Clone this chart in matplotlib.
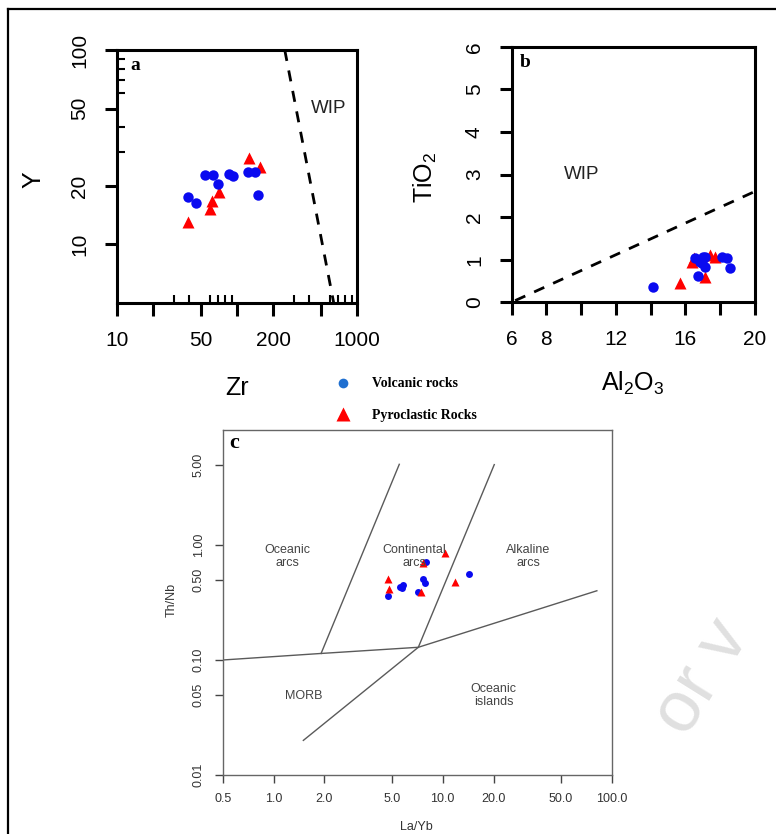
import matplotlib
matplotlib.use("Agg")
import matplotlib.pyplot as plt
from matplotlib.lines import Line2D
from matplotlib.ticker import FixedLocator, FixedFormatter, NullLocator

# ---------------- data ----------------
# Panel a: Zr vs Y
a_volc_zr = [39, 45.5, 54, 63, 70, 85, 92, 124, 141, 149]
a_volc_y = [17.5, 16.4, 22.7, 22.7, 20.4, 23.0, 22.4, 23.6, 23.6, 18.0]
a_pyro_zr = [39, 59.6, 61.5, 71, 126, 155]
a_pyro_y = [13.0, 15.3, 16.7, 18.6, 27.7, 25.0]
a_wip_zr = [250, 640]
a_wip_y = [100, 5.0]

# Panel b: Al2O3 vs TiO2
b_volc_al = [14.16, 16.56, 16.85, 17.13, 17.13, 16.75, 18.1, 18.38, 18.57, 16.94, 17.04]
b_volc_ti = [0.37, 1.03, 0.95, 1.07, 0.84, 0.62, 1.07, 1.03, 0.80, 0.92, 1.07]
b_pyro_al = [15.7, 16.37, 17.13, 17.42, 17.71, 16.5]
b_pyro_ti = [0.46, 0.95, 0.60, 1.11, 1.06, 1.03]
b_wip_al = [6.2, 20]
b_wip_ti = [0.04, 2.6]

# Panel c: La/Yb vs Th/Nb
c_volc_layb = [4.77, 5.6, 5.86, 5.78, 7.13, 7.69, 7.87, 7.98, 14.3]
c_volc_thnb = [0.361, 0.433, 0.449, 0.426, 0.393, 0.506, 0.470, 0.716, 0.56]
c_pyro_layb = [4.77, 4.84, 7.42, 7.69, 10.3, 11.9]
c_pyro_thnb = [0.506, 0.412, 0.393, 0.692, 0.848, 0.48]

c_bound1_x = [1.91, 5.54]
c_bound1_y = [0.114, 5.03]
c_bound2_x = [7.18, 20.2]
c_bound2_y = [0.129, 5.0]
c_bound3_x = [0.5, 1.91, 7.18, 81.7]
c_bound3_y = [0.1, 0.114, 0.129, 0.40]
c_bound4_x = [1.5, 7.18]
c_bound4_y = [0.02, 0.129]

a_xticks = [10, 20, 50, 100, 200, 500, 1000]
a_xlabels = ["10", "", "50", "", "200", "", "1000"]
a_yticks = [10, 20, 50, 100]
a_ylabels = ["10", "20", "50", "100"]
a_xminor = [30, 40, 60, 70, 80, 90, 300, 400, 600, 700, 800, 900]
a_yminor = [30, 40, 60, 70, 80, 90]

b_xticks = [6, 8, 10, 12, 14, 16, 18, 20]
b_xlabels = ["6", "8", "", "12", "", "16", "", "20"]
b_yticks = [0, 1, 2, 3, 4, 5, 6]

c_xticks = [0.5, 1, 2, 5, 10, 20, 50, 100]
c_xlabels = ["0.5", "1.0", "2.0", "5.0", "10.0", "20.0", "50.0", "100.0"]
c_yticks = [0.01, 0.05, 0.1, 0.5, 1, 5]
c_ylabels = ["0.01", "0.05", "0.10", "0.50", "1.00", "5.00"]

# ---------------- figure ----------------
W, H = 776, 834
fig = plt.figure(figsize=(W / 100, H / 100), dpi=100)
SANS = "Liberation Sans"
SERIF = "Liberation Serif"
plt.rcParams["font.family"] = SANS

BLUE = "#0a0af0"
RED = "#ff0000"


def rect(l, t, r, b):
    return [l / W, 1 - b / H, (r - l) / W, (b - t) / H]


def fxy(x, y):
    return x / W, 1 - y / H


def style_r_axes(ax):
    for s in ax.spines.values():
        s.set_linewidth(2.2)
        s.set_color("black")
    ax.tick_params(which="major", direction="out", length=9, width=2.2,
                   labelsize=15, color="black")
    ax.tick_params(axis="x", pad=11)
    ax.tick_params(axis="y", labelrotation=90, pad=11)
    for lbl in ax.get_yticklabels():
        lbl.set_va("center")


# watermark (faint, behind everything)
fig.text(*fxy(703, 678), "or v", fontsize=52, color="#e0e0e0", rotation=58,
         rotation_mode="anchor", ha="center", va="center", zorder=0)

# ---- panel a ----
axa = fig.add_axes(rect(117, 50, 357, 303))
axa.patch.set_alpha(0)
axa.set_xscale("log")
axa.set_yscale("log")
axa.set_xlim(10, 1000)
axa.set_ylim(5, 100)
axa.plot(a_wip_zr, a_wip_y, ls=(0, (4, 3.5)), color="black", lw=2)
axa.plot(a_pyro_zr, a_pyro_y, "^", color=RED, ms=8.5, mec="none")
axa.plot(a_volc_zr, a_volc_y, "o", color=BLUE, ms=7.5, mec="none")
axa.xaxis.set_major_locator(FixedLocator(a_xticks))
axa.xaxis.set_major_formatter(FixedFormatter(a_xlabels))
axa.yaxis.set_major_locator(FixedLocator(a_yticks))
axa.yaxis.set_major_formatter(FixedFormatter(a_ylabels))
axa.xaxis.set_minor_locator(FixedLocator(a_xminor))
axa.yaxis.set_minor_locator(FixedLocator(a_yminor))
style_r_axes(axa)
axa.tick_params(which="minor", direction="in", length=6, width=1.5, color="black")
axa.text(0.075, 0.94, "a", transform=axa.transAxes, fontsize=14,
         fontweight="bold", family=SERIF, ha="center", va="center")
axa.text(0.88, 0.77, "WIP", transform=axa.transAxes, fontsize=13.5,
         ha="center", va="center", color="#222222")

# ---- panel b ----
axb = fig.add_axes(rect(511.7, 46.7, 754.7, 302.3))
axb.patch.set_alpha(0)
axb.set_xlim(6, 20)
axb.set_ylim(0, 6)
axb.plot(b_wip_al, b_wip_ti, ls=(0, (4, 3.5)), color="black", lw=2)
axb.plot(b_pyro_al, b_pyro_ti, "^", color=RED, ms=8.5, mec="none")
axb.plot(b_volc_al, b_volc_ti, "o", color=BLUE, ms=7.5, mec="none")
axb.xaxis.set_major_locator(FixedLocator(b_xticks))
axb.xaxis.set_major_formatter(FixedFormatter(b_xlabels))
axb.yaxis.set_major_locator(FixedLocator(b_yticks))
style_r_axes(axb)
axb.text(0.055, 0.94, "b", transform=axb.transAxes, fontsize=14,
         fontweight="bold", family=SERIF, ha="center", va="center")
axb.text(0.29, 0.5, "WIP", transform=axb.transAxes, fontsize=13.5,
         ha="center", va="center", color="#222222")

# axis titles for a and b
fig.text(*fxy(33, 180), "Y", fontsize=18, rotation=90, ha="center", va="center")
fig.text(*fxy(237, 388), "Zr", fontsize=18, ha="center", va="center")
fig.text(*fxy(425, 177), r"$\mathregular{TiO_2}$", fontsize=18, rotation=90,
         ha="center", va="center")
fig.text(*fxy(633, 383), r"$\mathregular{Al_2O_3}$", fontsize=18,
         ha="center", va="center")

# legend
fig.add_artist(Line2D([343.3 / W], [1 - 383.3 / H], marker="o", color="#1f6fd0",
                      ms=7, mec="none", ls="none", transform=fig.transFigure))
fig.add_artist(Line2D([343.3 / W], [1 - 414 / H], marker="^", color=RED,
                      ms=10, mec="none", ls="none", transform=fig.transFigure))
fig.text(*fxy(371.5, 383.5), "Volcanic rocks", family=SERIF, fontweight="bold",
         fontsize=10, ha="left", va="center")
fig.text(*fxy(371.5, 415.5), "Pyroclastic Rocks", family=SERIF, fontweight="bold",
         fontsize=10, ha="left", va="center")

# ---- panel c ----
axc = fig.add_axes(rect(222.7, 430, 611.7, 775))
axc.patch.set_alpha(0)
axc.set_xscale("log")
axc.set_yscale("log")
axc.set_xlim(0.5, 100)
axc.set_ylim(0.01, 10)
for bx, by in [(c_bound1_x, c_bound1_y), (c_bound2_x, c_bound2_y),
               (c_bound3_x, c_bound3_y), (c_bound4_x, c_bound4_y)]:
    axc.plot(bx, by, color="#5a5a5a", lw=1.0)
axc.plot(c_volc_layb, c_volc_thnb, "o", color=BLUE, ms=5, mec="none")
axc.plot(c_pyro_layb, c_pyro_thnb, "^", color=RED, ms=5.5, mec="none")
axc.xaxis.set_major_locator(FixedLocator(c_xticks))
axc.xaxis.set_major_formatter(FixedFormatter(c_xlabels))
axc.yaxis.set_major_locator(FixedLocator(c_yticks))
axc.yaxis.set_major_formatter(FixedFormatter(c_ylabels))
axc.xaxis.set_minor_locator(NullLocator())
axc.yaxis.set_minor_locator(NullLocator())
for s in axc.spines.values():
    s.set_color("#666666")
    s.set_linewidth(1.0)
axc.tick_params(which="major", direction="out", length=6, width=1.0,
                color="#444444", labelsize=9, labelcolor="#333333", pad=7)
axc.tick_params(axis="y", labelrotation=90)
for lbl in axc.get_yticklabels():
    lbl.set_va("center")
axc.text(0.03, 0.962, "c", transform=axc.transAxes, fontsize=16,
         fontweight="bold", family=SERIF, ha="center", va="center")
region_kw = dict(fontsize=9, color="#444444", ha="center", va="center",
                 linespacing=1.15)
axc.text(1.2, 0.79, "Oceanic\narcs", **region_kw)
axc.text(6.8, 0.79, "Continental\narcs", **region_kw)
axc.text(32, 0.79, "Alkaline\narcs", **region_kw)
axc.text(1.5, 0.049, "MORB", **region_kw)
axc.text(20, 0.049, "Oceanic\nislands", **region_kw)
fig.text(*fxy(171.7, 600), "Th/Nb", fontsize=9, rotation=90, color="#333333",
         ha="center", va="center")
fig.text(*fxy(416.7, 826.7), "La/Yb", fontsize=9, color="#333333",
         ha="center", va="center")

# outer frame
fig.add_artist(Line2D([8 / W, 8 / W], [0, 1 - 9 / H], color="black", lw=1.6,
                      transform=fig.transFigure))
fig.add_artist(Line2D([8 / W, 1], [1 - 9 / H, 1 - 9 / H], color="black", lw=1.6,
                      transform=fig.transFigure))

fig.savefig("out.png", dpi=100)
